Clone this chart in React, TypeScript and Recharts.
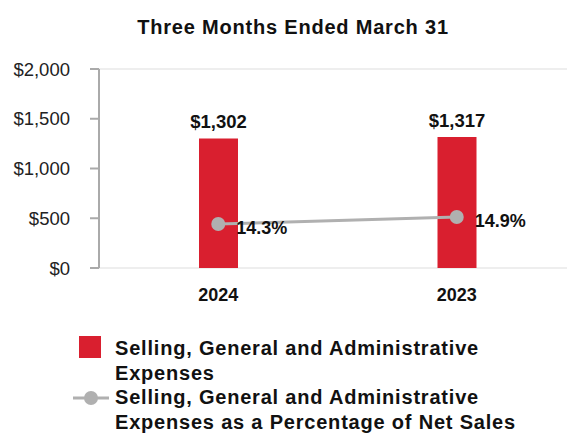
import { ComposedChart, Bar, Line, XAxis, YAxis, CartesianGrid, LabelList, Legend } from 'recharts';

const years = ['2024', '2023'];
const sgaExpenses = [1302, 1317];
const sgaPctOfSales = [14.3, 14.9];
const yTicks = [0, 500, 1000, 1500, 2000];
const barName = 'Selling, General and Administrative Expenses';
const lineName = 'Selling, General and Administrative Expenses as a Percentage of Net Sales';

const RED = '#d91f2f';
const GREY = '#b0b0b0';
const FONT = '"Liberation Sans", Arial, sans-serif';

const data = years.map((year, i) => ({ year, sga: sgaExpenses[i], pct: sgaPctOfSales[i] }));

function PctLabel(props: any) {
  const { x, y, value } = props;
  return (
    <text x={x + 18} y={y + 4} dominantBaseline="central" fontSize={18} fontWeight="bold" fill="#111" fontFamily={FONT}>
      {value}%
    </text>
  );
}

function renderLegend() {
  const textStyle = { position: 'absolute' as const, left: 115, width: 445, lineHeight: '24.5px' };
  return (
    <div style={{ position: 'relative', height: 98, fontFamily: FONT, fontSize: 20, fontWeight: 'bold', letterSpacing: 0.8, color: '#111' }}>
      <div style={{ position: 'absolute', left: 79, top: 0, width: 22, height: 22, background: RED }} />
      <div style={{ ...textStyle, top: 0 }}>{barName}</div>
      <svg style={{ position: 'absolute', left: 72, top: 50 }} width={38} height={24}>
        <line x1={1} y1={12} x2={37} y2={12} stroke={GREY} strokeWidth={3} />
        <circle cx={19} cy={12} r={7} fill={GREY} />
      </svg>
      <div style={{ ...textStyle, top: 49 }}>{lineName}</div>
    </div>
  );
}

export default function App() {
  return (
    <div style={{ position: 'absolute', left: 0, top: 0, width: 567, height: 435, overflow: 'hidden', background: '#fff' }}>
      <div style={{ height: 50, lineHeight: '54px', textAlign: 'center', paddingLeft: 19, fontFamily: FONT, fontSize: 20, fontWeight: 'bold', letterSpacing: 0.8, color: '#111' }}>
        Three Months Ended March 31
      </div>
      <ComposedChart width={576} height={385} data={data} margin={{ top: 19, right: 0, bottom: 1, left: 0 }}>
        <CartesianGrid vertical={false} stroke="#e8e8e8" strokeWidth={1.5} />
        <XAxis
          dataKey="year"
          axisLine={false}
          tickLine={false}
          tickSize={0}
          tickMargin={20}
          height={68}
          tick={{ fontSize: 18, fontWeight: 'bold', fill: '#111', fontFamily: FONT }}
        />
        <YAxis
          yAxisId="usd"
          width={99}
          domain={[0, 2000]}
          ticks={yTicks}
          tickFormatter={(v: number) => `$${v.toLocaleString('en-US')}`}
          axisLine={{ stroke: '#aaa', strokeWidth: 2 }}
          tickLine={{ stroke: '#aaa', strokeWidth: 2 }}
          tickSize={9}
          tickMargin={20}
          tick={{ fontSize: 18.5, fill: '#222', fontFamily: FONT }}
        />
        <YAxis yAxisId="pct" orientation="right" hide domain={[10.53, 27.6]} />
        <Bar yAxisId="usd" dataKey="sga" name={barName} fill={RED} barSize={39} isAnimationActive={false}>
          <LabelList
            dataKey="sga"
            position="top"
            offset={10}
            formatter={(v: any) => `$${Number(v).toLocaleString('en-US')}`}
            style={{ fontSize: 18.5, fontWeight: 'bold', fill: '#111', fontFamily: FONT }}
          />
        </Bar>
        <Line
          yAxisId="pct"
          dataKey="pct"
          name={lineName}
          stroke={GREY}
          strokeWidth={3}
          dot={{ r: 7, fill: GREY, stroke: GREY, strokeWidth: 0 }}
          activeDot={false}
          isAnimationActive={false}
        >
          <LabelList dataKey="pct" content={PctLabel} />
        </Line>
        <Legend verticalAlign="bottom" content={renderLegend} />
      </ComposedChart>
    </div>
  );
}
